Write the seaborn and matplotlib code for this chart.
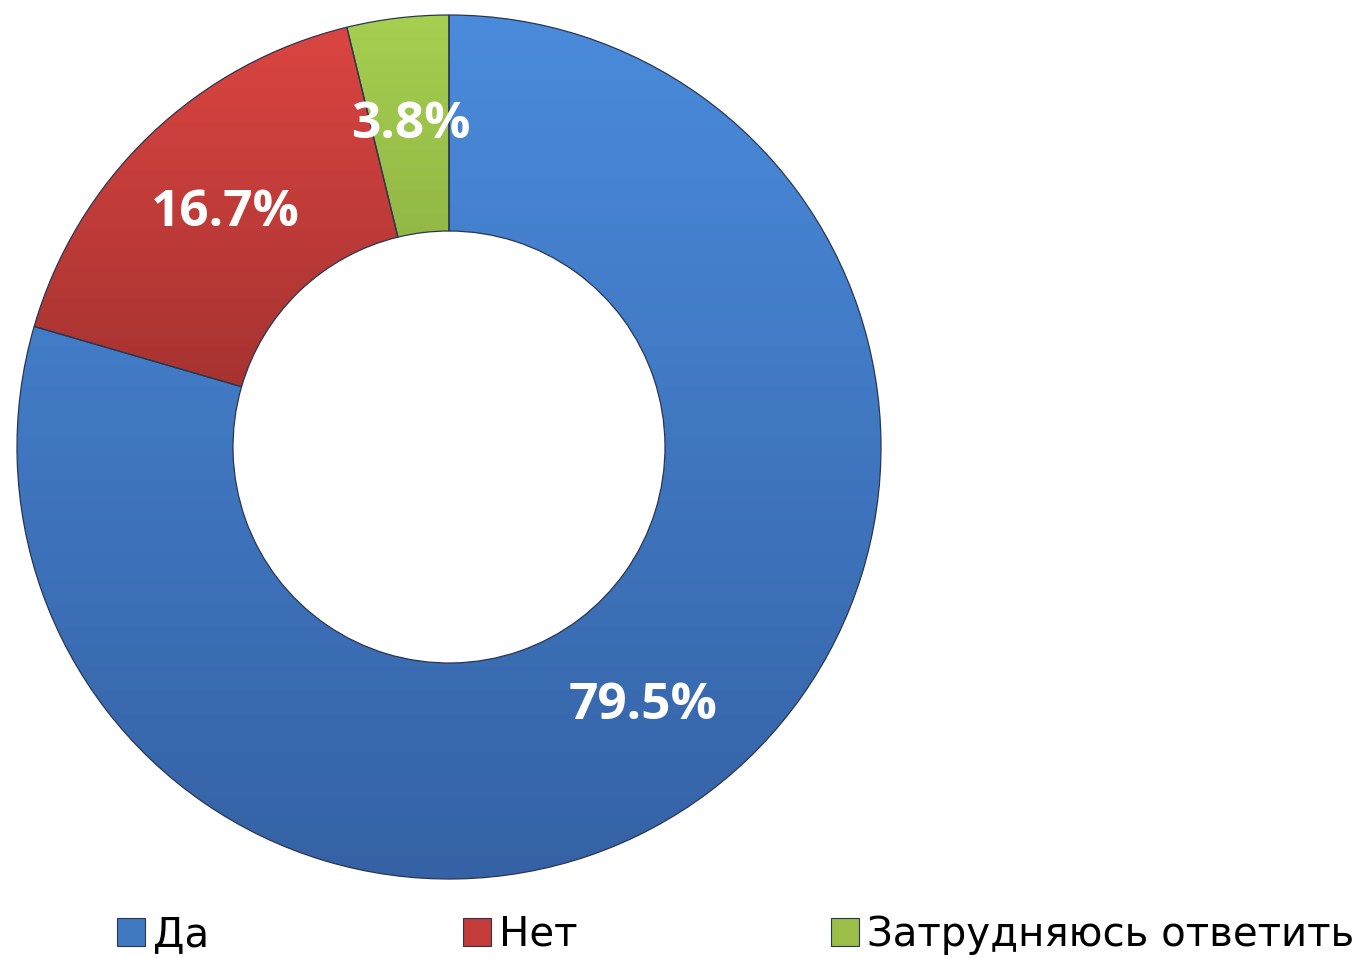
import matplotlib
matplotlib.use('Agg')
import numpy as np
import matplotlib.pyplot as plt
from matplotlib.colors import LinearSegmentedColormap
from matplotlib.patches import Patch
import seaborn as sns

# Chart data
categories = ['Да', 'Нет', 'Затрудняюсь ответить']
shares = [79.5, 16.7, 3.8]
colors = ['#4079C2', '#C43C39', '#9BBE48']
# top / bottom shades for the glossy fill
shade_top = ['#4A8BDB', '#DB4541', '#A6CF50']
shade_bottom = ['#3562A5', '#A63331', '#93B846']

sns.set_theme(style='white')
plt.rcParams['font.family'] = ['DejaVu Sans']
plt.rcParams['text.color'] = 'black'

W, H = 1359, 958
fig = plt.figure(figsize=(W / 100, H / 100), dpi=100)
fig.patch.set_facecolor('white')

# donut axes: centre (449, 447), outer radius 432 px
cx, cy, r = 449, 447, 432
ax = fig.add_axes([(cx - r) / W, (H - cy - r) / H, 2 * r / W, 2 * r / H])

wedges, texts, autotexts = ax.pie(
    shares,
    colors=colors,
    startangle=90,
    counterclock=False,
    autopct=lambda p: f'{p:.1f}%',
    pctdistance=0.75,
    radius=1.0,
    wedgeprops=dict(width=0.5, edgecolor='#2a3650', linewidth=0.9),
)

# vertical gradient inside each wedge, wedge outline kept on top
grad = np.linspace(0, 1, 256).reshape(-1, 1)
for w, c0, c1 in zip(wedges, shade_top, shade_bottom):
    ext = w.get_path().get_extents()
    cmap = LinearSegmentedColormap.from_list('g', [c0, c1])
    im = ax.imshow(grad, cmap=cmap, extent=(ext.x0, ext.x1, ext.y0, ext.y1),
                   origin='upper', aspect='auto', zorder=1)
    im.set_clip_path(w)
    w.set_facecolor('none')
    w.set_zorder(2)

for t in autotexts:
    t.set_color('white')
    t.set_fontsize(37)
    t.set_fontweight('bold')
    t.set_family(['Open Sans', 'DejaVu Sans'])
    t.set_zorder(10)
ax.set_xlim(-1, 1)
ax.set_ylim(-1, 1)
ax.set_aspect('equal')
ax.axis('off')

# legend spread along the bottom
handles = [Patch(facecolor=c, edgecolor='#2a3650', linewidth=0.8) for c in colors]
leg = fig.legend(
    handles, categories,
    loc='center',
    bbox_to_anchor=(117 / W, 1 - 955 / H, (1354 - 117) / W, 40 / H),
    mode='expand',
    ncol=3,
    frameon=False,
    fontsize=29,
    handlelength=0.7,
    handleheight=0.7,
    handletextpad=0.2,
    borderaxespad=0,
    borderpad=0,
)
for txt in leg.get_texts():
    txt.set_color('black')

fig.savefig('out.png', dpi=100, facecolor='white')
